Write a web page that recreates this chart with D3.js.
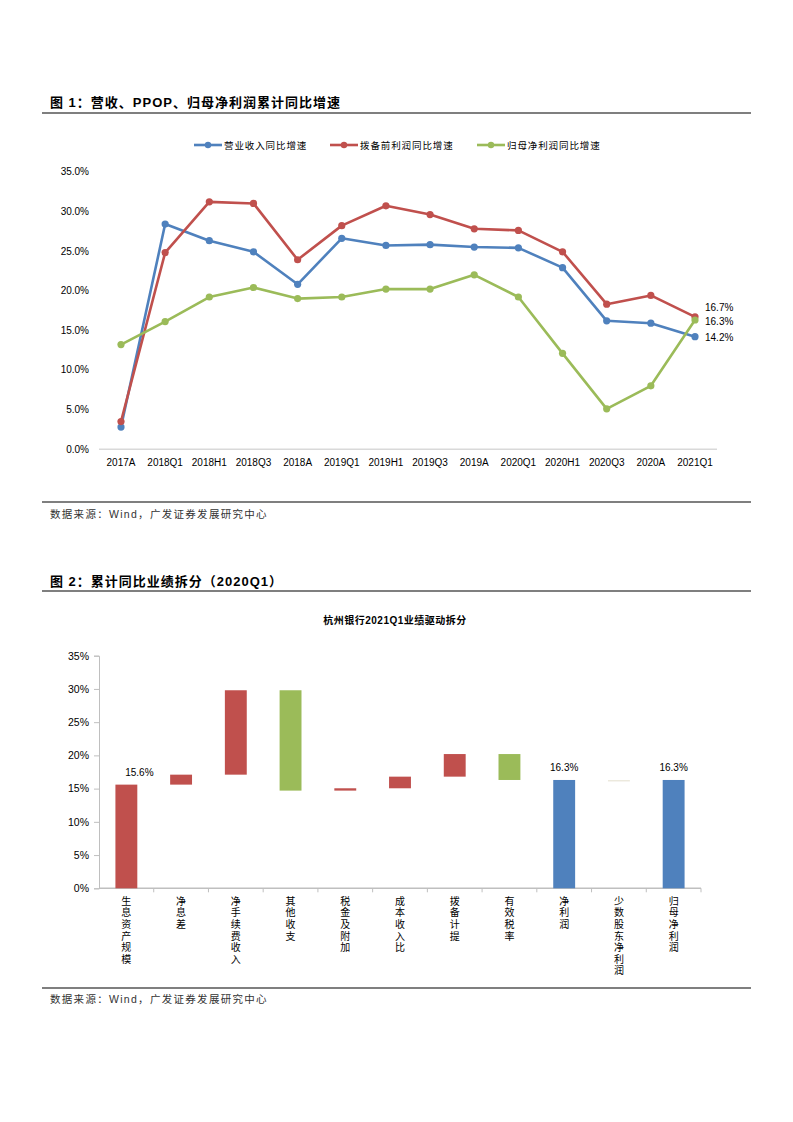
<!DOCTYPE html>
<html><head><meta charset="utf-8">
<script src="https://cdn.jsdelivr.net/npm/d3@7"></script>
<style>
html,body{margin:0;padding:0;background:#fff;}
svg{display:block;font-family:"Liberation Sans","Noto Sans CJK SC",sans-serif;}
</style></head>
<body>
<script>
// ---------- Chart 1 data ----------
const periods = ["2017A","2018Q1","2018H1","2018Q3","2018A","2019Q1","2019H1","2019Q3","2019A","2020Q1","2020H1","2020Q3","2020A","2021Q1"];
const revenueGrowth = [2.8,28.4,26.3,24.9,20.8,26.6,25.7,25.8,25.5,25.4,22.9,16.2,15.9,14.2];
const ppopGrowth    = [3.5,24.8,31.2,31.0,23.9,28.2,30.7,29.6,27.8,27.6,24.9,18.3,19.4,16.7];
const netProfitGrowth = [13.2,16.1,19.2,20.4,19.0,19.2,20.2,20.2,22.0,19.2,12.1,5.1,8.0,16.3];
const seriesNames = ["营业收入同比增速","拨备前利润同比增速","归母净利润同比增速"];
const seriesColors = ["#4f81bd","#c0504d","#9bbb59"];
const yTicks1 = [0,5,10,15,20,25,30,35];

// ---------- Chart 2 data ----------
const drivers = ["生息资产规模","净息差","净手续费收入","其他收支","税金及附加","成本收入比","拨备计提","有效税率","净利润","少数股东净利润","归母净利润"];
const barStart = [0,15.6,17.1,29.8,14.7,15.05,16.8,20.2,0,16.3,0];
const barEnd   = [15.6,17.1,29.8,14.7,15.05,16.8,20.2,16.3,16.3,16.22,16.3];
const barKind  = ["pos","pos","pos","neg","pos","pos","pos","neg","total","minor","total"];
const barLabels = ["15.6%","","","","","","","","16.3%","","16.3%"];
const yTicks2 = [0,5,10,15,20,25,30,35];
const kindColors = {pos:"#c0504d", neg:"#9bbb59", total:"#4f81bd", minor:"#ece9dd"};

const svg = d3.select("body").append("svg").attr("width",793).attr("height",1122);

// ---------- Headers ----------
function header(y, text, lineY){
  svg.append("text").attr("x",50).attr("y",y).attr("font-size",13).attr("font-weight","bold")
    .attr("letter-spacing",1).attr("fill","#000").text(text);
  svg.append("line").attr("x1",42).attr("x2",751).attr("y1",lineY).attr("y2",lineY)
    .attr("stroke","#000").attr("stroke-width",1.2);
}
function source(y, lineY){
  svg.append("line").attr("x1",42).attr("x2",751).attr("y1",lineY).attr("y2",lineY)
    .attr("stroke","#000").attr("stroke-width",1.2);
  svg.append("text").attr("x",50).attr("y",y).attr("font-size",10.5).attr("letter-spacing",1.3)
    .attr("fill","#333").text("数据来源：Wind，广发证券发展研究中心");
}
header(107, "图 1：营收、PPOP、归母净利润累计同比增速", 113);
source(518, 502);
header(586, "图 2：累计同比业绩拆分（2020Q1）", 591);
source(1003, 988);

// ---------- Chart 1 ----------
const x1 = d3.scalePoint().domain(periods).range([121, 695]);
const y1 = d3.scaleLinear().domain([0,35]).range([449.3,171.7]);

const g1 = svg.append("g");
g1.selectAll(".yt").data(yTicks1).join("text")
  .attr("x",89).attr("y",d=>y1(d)+3.5).attr("text-anchor","end")
  .attr("font-size",10).attr("fill","#000").text(d=>d.toFixed(1)+"%");
g1.append("line").attr("x1",99).attr("x2",717).attr("y1",y1(0)).attr("y2",y1(0))
  .attr("stroke","#d9d9d9").attr("stroke-width",1.5);
g1.selectAll(".xt").data(periods).join("text")
  .attr("x",d=>x1(d)).attr("y",466).attr("text-anchor","middle")
  .attr("font-size",10).attr("fill","#000").text(d=>d);

const allSeries = [revenueGrowth, ppopGrowth, netProfitGrowth];
const line = d3.line().x((d,i)=>x1(periods[i])).y(d=>y1(d));
[0,1,2].forEach(si=>{
  const vals = allSeries[si];
  g1.append("path").datum(vals).attr("d",line).attr("fill","none")
    .attr("stroke",seriesColors[si]).attr("stroke-width",2.6).attr("stroke-linejoin","round");
  g1.selectAll(".pt"+si).data(vals).join("circle")
    .attr("cx",(d,i)=>x1(periods[i])).attr("cy",d=>y1(d)).attr("r",3.6)
    .attr("fill",seriesColors[si]);
});
const endLabels = [
  {v: ppopGrowth[13], dy:-9},
  {v: netProfitGrowth[13], dy:1},
  {v: revenueGrowth[13], dy:1}
];
g1.selectAll(".el").data(endLabels).join("text")
  .attr("x",705).attr("y",d=>y1(d.v)+d.dy+3.5).attr("font-size",10).attr("fill","#000")
  .text(d=>d.v.toFixed(1)+"%");

const legendX = [194, 330, 477];
seriesNames.forEach((n,i)=>{
  const lg = svg.append("g");
  lg.append("line").attr("x1",legendX[i]).attr("x2",legendX[i]+28).attr("y1",145).attr("y2",145)
    .attr("stroke",seriesColors[i]).attr("stroke-width",2.6);
  lg.append("circle").attr("cx",legendX[i]+14).attr("cy",145).attr("r",3.2).attr("fill",seriesColors[i]);
  lg.append("text").attr("x",legendX[i]+30).attr("y",148.5).attr("font-size",9.5)
    .attr("letter-spacing",0.9).attr("fill","#000").text(n);
});

// ---------- Chart 2 ----------
svg.append("text").attr("x",395).attr("y",624).attr("text-anchor","middle")
  .attr("font-size",10).attr("font-weight","bold").attr("letter-spacing",0.5).attr("fill","#000")
  .text("杭州银行2021Q1业绩驱动拆分");

const x2 = d3.scaleBand().domain(drivers).range([99,701]).padding(0);
const y2 = d3.scaleLinear().domain([0,35]).range([888.3,655.7]);
const g2 = svg.append("g");

const yAxis2 = d3.axisLeft(y2).tickValues(yTicks2).tickFormat(d=>d+"%").tickSize(5).tickPadding(5);
const ya = g2.append("g").attr("transform","translate(99,0)").call(yAxis2);
ya.select(".domain").attr("stroke","#bfbfbf");
ya.selectAll(".tick line").attr("stroke","#bfbfbf");
ya.selectAll("text").attr("font-size",10.5).attr("fill","#000")
  .attr("font-family","Liberation Sans, sans-serif");

g2.append("line").attr("x1",99).attr("x2",701).attr("y1",y2(0)).attr("y2",y2(0))
  .attr("stroke","#bfbfbf").attr("stroke-width",1.5);
const boundaries = drivers.map((d)=>x2(d)).concat([x2(drivers[drivers.length-1])+x2.bandwidth()]);
g2.selectAll(".xtk").data(boundaries.slice(1)).join("line")
  .attr("x1",d=>d).attr("x2",d=>d).attr("y1",y2(0)).attr("y2",y2(0)+4)
  .attr("stroke","#bfbfbf");

const bw = x2.bandwidth()*0.4;
g2.selectAll(".bar").data(drivers).join("rect")
  .attr("x",d=>x2(d)+x2.bandwidth()/2-bw/2)
  .attr("width",bw)
  .attr("y",(d,i)=>y2(Math.max(barStart[i],barEnd[i])))
  .attr("height",(d,i)=>Math.max(1.5, Math.abs(y2(barStart[i])-y2(barEnd[i]))))
  .attr("fill",(d,i)=>kindColors[barKind[i]]);

g2.selectAll(".bl").data(drivers).join("text")
  .attr("x",(d,i)=>x2(d)+x2.bandwidth()/2 + (i===0?13:0))
  .attr("y",(d,i)=>y2(Math.max(barStart[i],barEnd[i]))-9)
  .attr("text-anchor","middle").attr("font-size",10).attr("fill","#000")
  .text((d,i)=>barLabels[i]);

// vertical category labels (one vertical text each)
g2.selectAll(".cat").data(drivers).join("text")
  .attr("x",d=>x2(d)+x2.bandwidth()/2)
  .attr("y",896)
  .attr("font-size",10).attr("fill","#000")
  .attr("font-family","Noto Sans CJK SC, sans-serif")
  .attr("letter-spacing",1.6)
  .style("writing-mode","vertical-rl")
  .style("text-orientation","upright")
  .text(d=>d);
</script>
</body></html>
